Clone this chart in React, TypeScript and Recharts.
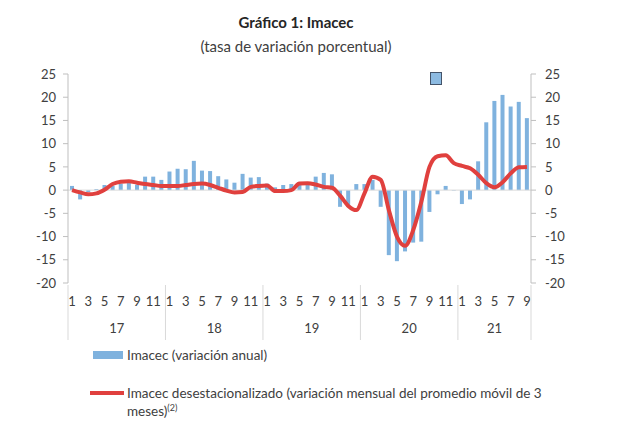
import { ComposedChart, Bar, Line, XAxis, YAxis, ReferenceLine } from 'recharts';

const years = ['17', '18', '19', '20', '21'];
const monthsPerYear = [12, 12, 12, 12, 9];

// Imacec, variación anual (%)
const imacecAnual = [
  0.9, -2.0, -0.4, 0.2, 1.1, 0.9, 1.4, 1.8, 1.2, 2.9, 2.9, 2.2,
  4.0, 4.6, 4.5, 6.3, 4.2, 4.1, 3.0, 2.3, 1.6, 3.5, 2.7, 2.8,
  1.4, 0.6, 1.1, 1.3, 1.7, 1.4, 2.9, 3.7, 3.4, -3.6, -3.6, 1.3,
  1.3, 2.2, -3.6, -14.0, -15.3, -13.2, -11.3, -11.1, -4.7, -0.9, 0.9, -0.1,
  -3.0, -2.0, 6.2, 14.6, 19.2, 20.5, 18.0, 19.0, 15.5,
];

// Imacec desestacionalizado, var. mensual del promedio móvil de 3 meses (%)
const imacecDesest = [
  0.0, -0.5, -0.9, -0.7, 0.1, 1.3, 1.8, 1.9, 1.6, 1.3, 1.1, 0.9,
  0.9, 0.9, 1.1, 1.3, 1.4, 1.1, 0.5, -0.1, -0.5, -0.4, 0.7, 0.9,
  1.0, -0.2, -0.2, 0.0, 1.4, 1.5, 1.2, 0.7, 0.5, -1.2, -3.4, -4.3,
  -0.7, 2.9, 2.2, -4.3, -10.0, -12.0, -8.6, -2.5, 5.0, 7.3, 7.5, 5.8,
  5.2, 4.7, 3.3, 1.5, 0.6, 1.7, 3.6, 4.9, 5.0,
];

const yTicks = [-20, -15, -10, -5, 0, 5, 10, 15, 20, 25];

const months: number[] = [];
const yearOf: number[] = [];
monthsPerYear.forEach((n, y) => {
  for (let m = 1; m <= n; m++) {
    months.push(m);
    yearOf.push(y);
  }
});

const data = months.map((m, i) => ({
  id: `${years[yearOf[i]]}-${m}`,
  anual: imacecAnual[i],
  desest: imacecDesest[i],
}));

const TEXT = '#404040';
const GRID = '#d9d9d9';
const FONT = 'Lato, "Open Sans", sans-serif';

const MonthTick = (props: any) => {
  const { x, y, payload } = props;
  const i: number = payload.index ?? props.index;
  const half: number = payload.offset || 4.06;
  const m = months[i];
  const yr = yearOf[i];
  const isFirst = m === 1;
  const isLast = i === months.length - 1;
  return (
    <g>
      {m % 2 === 1 && (
        <text x={x} y={y + 15} textAnchor="middle" fontSize={13} fill={TEXT} fontFamily={FONT}>
          {m}
        </text>
      )}
      {isFirst && <line x1={x - half} x2={x - half} y1={y - 6} y2={y + 49} stroke={GRID} />}
      {isLast && <line x1={x + half} x2={x + half} y1={y - 6} y2={y + 49} stroke={GRID} />}
      {isFirst && (
        <text
          x={x - half + monthsPerYear[yr] * half}
          y={y + 42}
          textAnchor="middle"
          fontSize={13}
          fill={TEXT}
          fontFamily={FONT}
        >
          {years[yr]}
        </text>
      )}
    </g>
  );
};

export default function App() {
  return (
    <div
      style={{
        position: 'absolute',
        left: 0,
        top: 0,
        width: 637,
        height: 431,
        background: '#fff',
        fontFamily: FONT,
        color: TEXT,
      }}
    >
      <div style={{ position: 'absolute', left: 0, width: 592, top: 13, textAlign: 'center', fontSize: 15, fontWeight: 700, lineHeight: '18px', color: '#262626' }}>
        Gráfico 1: Imacec
      </div>
      <div style={{ position: 'absolute', left: 0, width: 592, top: 37, textAlign: 'center', fontSize: 15, lineHeight: '18px' }}>
        (tasa de variación porcentual)
      </div>

      <ComposedChart
        width={637}
        height={431}
        data={data}
        margin={{ top: 74, right: 66, left: 28, bottom: 88 }}
        barCategoryGap={0}
      >
        <XAxis
          dataKey="id"
          interval={0}
          axisLine={false}
          tickLine={false}
          height={60}
          tick={<MonthTick />}
        />
        <YAxis
          yAxisId="l"
          domain={[-20, 25]}
          ticks={yTicks}
          width={40}
          stroke="#bfbfbf"
          tickSize={5}
          tickMargin={7}
          tick={{ fontSize: 13, fill: TEXT, fontFamily: FONT }}
        />
        <YAxis
          yAxisId="r"
          orientation="right"
          domain={[-20, 25]}
          ticks={yTicks}
          width={40}
          stroke="#bfbfbf"
          tickSize={5}
          tickMargin={9}
          tick={{ fontSize: 13, fill: TEXT, fontFamily: FONT, textAnchor: 'start' }}
        />
        <ReferenceLine yAxisId="l" y={0} stroke={GRID} />
        <Bar yAxisId="l" dataKey="anual" fill="#7fb2de" barSize={4} isAnimationActive={false} />
        <Line
          yAxisId="r"
          type="monotone"
          dataKey="desest"
          stroke="#e0403e"
          strokeWidth={4}
          dot={false}
          isAnimationActive={false}
        />
      </ComposedChart>

      <div style={{ position: 'absolute', left: 430, top: 72, width: 10, height: 11, background: '#8dbbe2', border: '1px solid #44546a' }} />

      <div style={{ position: 'absolute', left: 93, top: 351, width: 30, height: 8, background: '#7fb2de' }} />
      <div style={{ position: 'absolute', left: 127, top: 346, fontSize: 13.5, lineHeight: '18px' }}>
        Imacec (variación anual)
      </div>
      <div style={{ position: 'absolute', left: 90, top: 391, width: 34, height: 4, background: '#e0403e' }} />
      <div style={{ position: 'absolute', left: 127, top: 384, fontSize: 13.5, lineHeight: '18px', width: 450 }}>
        Imacec desestacionalizado (variación mensual del promedio móvil de 3
        <br />
        meses)<sup style={{ fontSize: 9, lineHeight: 0 }}>(2)</sup>
      </div>
    </div>
  );
}
